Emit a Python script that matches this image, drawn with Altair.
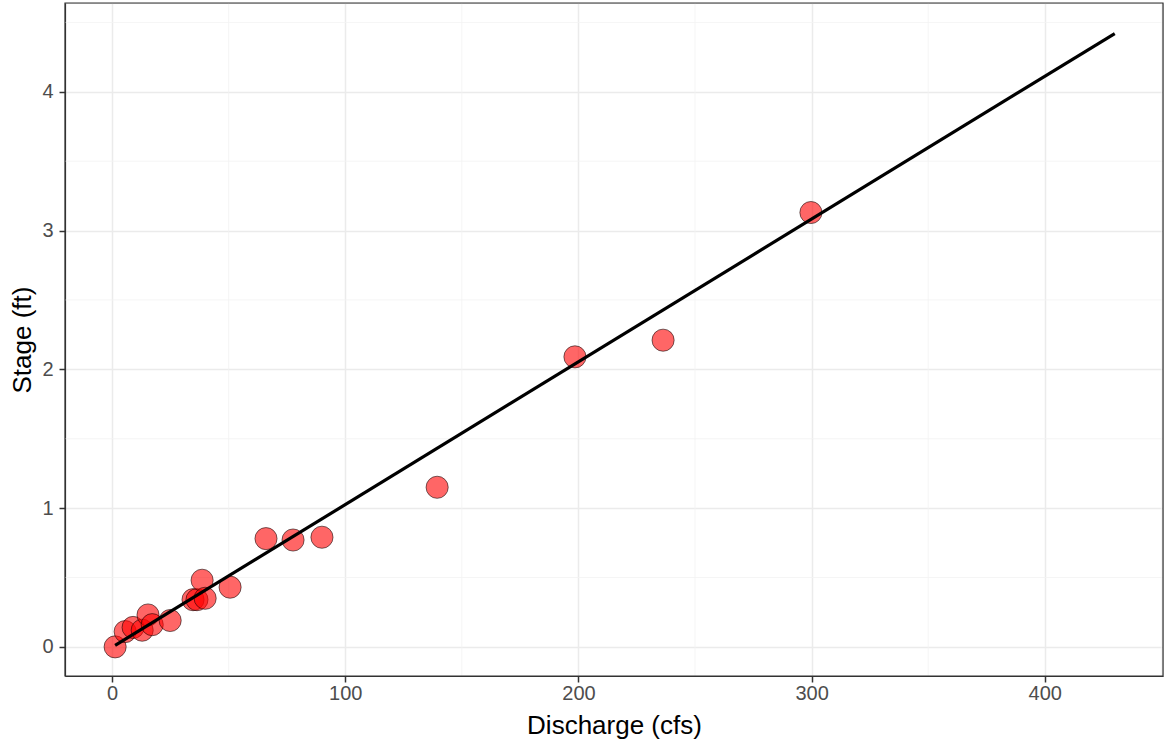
import altair as alt
import pandas as pd

discharge = [1.3, 5.6, 9.0, 12.9, 15.4, 17.2, 24.9, 34.7, 36.4, 38.6, 39.9, 50.6,
             66.0, 77.6, 90.0, 139.4, 198.5, 236.3, 299.7]
stage = [0.00, 0.11, 0.14, 0.12, 0.23, 0.16, 0.19, 0.34, 0.34, 0.48, 0.35, 0.43,
         0.78, 0.77, 0.79, 1.15, 2.09, 2.21, 3.13]

fit_x = [1.3, 430.0]
fit_y = [0.01, 4.42]

x_major = [0, 100, 200, 300, 400]
y_major = [0, 1, 2, 3, 4]
x_minor = [50, 150, 250, 350, 450]
y_minor = [0.5, 1.5, 2.5, 3.5, 4.5]

pts = pd.DataFrame({"Discharge": discharge, "Stage": stage})
fit = pd.DataFrame({"Discharge": fit_x, "Stage": fit_y})
xm = pd.DataFrame({"v": x_minor})
ym = pd.DataFrame({"v": y_minor})
frame_df = pd.DataFrame({"f": [0]})

xs = alt.Scale(domain=[-20.2, 450.7], nice=False, zero=False)
ys = alt.Scale(domain=[-0.21, 4.64], nice=False, zero=False)

common = dict(grid=True, gridColor="#EBEBEB", gridWidth=1.5,
              domain=True, domainColor="#333333", domainWidth=1.2,
              tickColor="#333333", tickSize=6, tickWidth=1.5,
              labelColor="#4D4D4D", labelFontSize=20, labelFont="Liberation Sans",
              titleFont="Liberation Sans", titleFontSize=26,
              titleFontWeight="normal", titleColor="#000000")

xaxis = alt.Axis(values=x_major, title="Discharge (cfs)", labelPadding=1,
                 titlePadding=9, **common)
yaxis = alt.Axis(values=y_major, title="Stage (ft)", labelPadding=6,
                 titlePadding=6, **common)

vminor = alt.Chart(xm).mark_rule(color="#F2F2F2", strokeWidth=0.8).encode(
    x=alt.X("v:Q", scale=xs, axis=xaxis))
hminor = alt.Chart(ym).mark_rule(color="#F2F2F2", strokeWidth=0.8).encode(
    y=alt.Y("v:Q", scale=ys, axis=yaxis))

line = alt.Chart(fit).mark_line(color="black", strokeWidth=3.2).encode(
    x=alt.X("Discharge:Q", scale=xs, axis=xaxis),
    y=alt.Y("Stage:Q", scale=ys, axis=yaxis))

points = alt.Chart(pts).mark_circle(size=490, color="red", opacity=1, fillOpacity=0.6,
                                    stroke="black", strokeOpacity=0.6, strokeWidth=0.9).encode(
    x=alt.X("Discharge:Q", scale=xs, axis=xaxis),
    y=alt.Y("Stage:Q", scale=ys, axis=yaxis))

frame = alt.Chart(frame_df).mark_rect(filled=False, stroke="#333333", strokeWidth=1.2).encode(
    x=alt.value(0), x2=alt.value("width"), y=alt.value(0), y2=alt.value("height"))

chart = alt.layer(vminor, hminor, points, line, frame).properties(
    width=1098, height=673,
    autosize=alt.AutoSizeParams(type="none"),
    padding={"left": 65, "top": 3, "right": 2, "bottom": 70},
).configure_view(stroke="#333333", strokeWidth=1.2).configure(background="white")

chart.save("out.html", embed_options={"renderer": "svg", "actions": False})
